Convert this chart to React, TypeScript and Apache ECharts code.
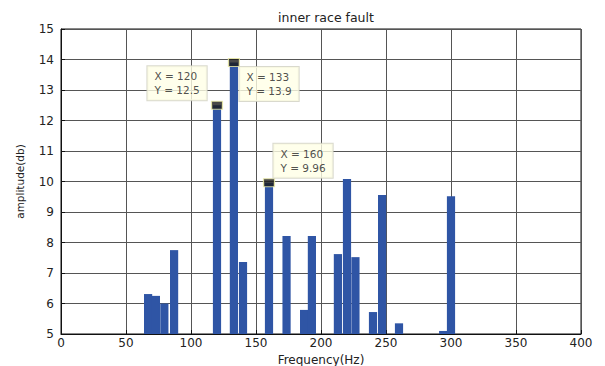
import React, { useEffect, useRef } from "react";
import * as echarts from "echarts";

const titleText = "inner race fault";
const xName = "Frequency(Hz)";
const yName = "amplitude(db)";

const freqs = [67, 73, 79.5, 87, 120, 133, 140, 160, 173.5, 187, 193, 213, 220, 226.5, 240, 247, 260, 294, 300];
const amps = [6.31, 6.25, 6.0, 7.75, 12.5, 13.9, 7.36, 9.96, 8.21, 5.79, 8.21, 7.62, 10.08, 7.52, 5.72, 9.56, 5.35, 5.1, 9.52];
const barWidthHz = 6.3;

const tipX = [120, 133, 160];
const tipY = [12.5, 13.9, 9.96];
const tipOffsets: [number, number][] = [[-63.5, -34.5], [11.6, 9], [10.5, -34.5]];

const FONT = "DejaVu Sans";

export default function App() {
  const ref = useRef<HTMLDivElement>(null);
  useEffect(() => {
    if (!ref.current) return;
    const chart = echarts.init(ref.current, null, { renderer: "svg" });
    const yMin = 5;
    chart.setOption({
      animation: false,
      backgroundColor: "#ffffff",
      title: {
        text: titleText,
        left: 321,
        textAlign: "center",
        top: 6,
        textStyle: { fontFamily: FONT, fontSize: 12.5, fontWeight: "normal", color: "#222" },
      },
      grid: {
        left: 61,
        right: 24,
        top: 29,
        bottom: 32,
        outerBoundsMode: "none",
        containLabel: false,
        show: true,
        borderColor: "#111",
        borderWidth: 1,
        backgroundColor: "#fff",
      },
      xAxis: {
        type: "value",
        min: 0,
        max: 400,
        interval: 50,
        name: xName,
        nameLocation: "middle",
        nameGap: 12,
        nameTextStyle: { fontFamily: FONT, fontSize: 12, color: "#222", verticalAlign: "top" },
        axisLine: { show: true, lineStyle: { color: "#111" } },
        axisTick: { show: true, inside: true, length: 4, lineStyle: { color: "#111" } },
        axisLabel: { fontFamily: FONT, fontSize: 12, color: "#222", margin: 3 },
        splitLine: { show: true, lineStyle: { color: "#555", width: 1 } },
      },
      yAxis: {
        type: "value",
        min: 5,
        max: 15,
        interval: 1,
        name: yName,
        nameLocation: "middle",
        nameGap: 36,
        nameRotate: 90,
        nameTextStyle: { fontFamily: FONT, fontSize: 10.5, color: "#222" },
        axisLine: { show: true, lineStyle: { color: "#111" } },
        axisTick: { show: true, inside: true, length: 4, lineStyle: { color: "#111" } },
        axisLabel: { fontFamily: FONT, fontSize: 12, color: "#222", margin: 7 },
        splitLine: { show: true, lineStyle: { color: "#555", width: 1 } },
      },
      series: [
        {
          type: "custom",
          clip: true,
          data: freqs.map((f, i) => [f, amps[i]]),
          encode: { x: 0, y: 1 },
          renderItem: (params: any, api: any) => {
            const f = api.value(0);
            const a = api.value(1);
            const p1 = api.coord([f - barWidthHz / 2, a]);
            const p2 = api.coord([f + barWidthHz / 2, yMin]);
            return {
              type: "rect",
              shape: { x: p1[0], y: p1[1], width: p2[0] - p1[0], height: p2[1] - p1[1] },
              style: { fill: "#2f55a5" },
            };
          },
          z: 3,
        },
        {
          type: "scatter",
          symbol: "rect",
          symbolSize: [11, 8],
          itemStyle: { color: "#1a1a1a", borderColor: "#f0f0a8", borderWidth: 1 },
          z: 5,
          data: tipX.map((x, i) => ({
            value: [x, tipY[i]],
            label: {
              show: true,
              position: tipOffsets[i],
              align: "left",
              verticalAlign: "top",
              formatter: `X = ${x}\nY = ${tipY[i]}`,
              fontFamily: FONT,
              fontSize: 10.5,
              lineHeight: 14,
              color: "#222",
              backgroundColor: "#ffffe6",
              borderColor: "#d0d0c0",
              borderWidth: 1,
              padding: [3, 7, 3, 7],
            },
          })),
        },
      ],
    });
    return () => chart.dispose();
  }, []);
  return <div ref={ref} style={{ width: 605, height: 366, position: "absolute", left: 0, top: 0 }} />;
}
